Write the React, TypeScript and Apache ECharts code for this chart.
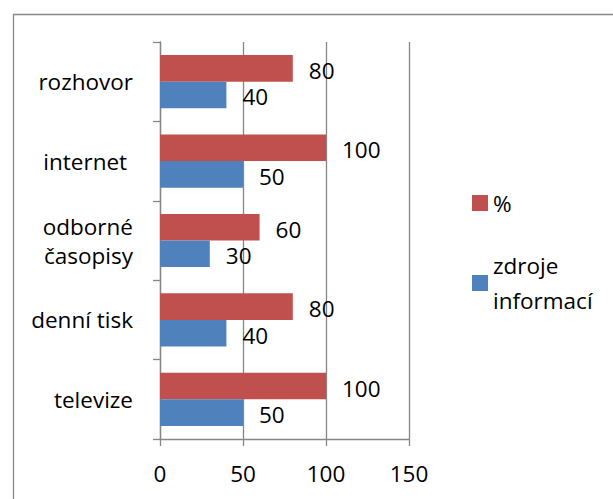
import React, { useEffect, useRef } from "react";
import * as echarts from "echarts";

const categories = ["televize", "denní tisk", "odborné\nčasopisy", "internet ", "rozhovor"];
const percentValues = [100, 80, 60, 100, 80];
const zdrojeValues = [50, 40, 30, 50, 40];
const seriesNames = ["%", "zdroje informací"];
const legendLabels: Record<string, string> = { "zdroje informací": "zdroje\ninformací", "%": "%" };

const FONT = "Open Sans";
const GRAY = "#868686";

export default function App() {
  const ref = useRef<HTMLDivElement>(null);
  useEffect(() => {
    if (!ref.current) return;
    const chart = echarts.init(ref.current, undefined, { renderer: "svg" });
    const labelStyle = {
      show: true,
      position: "right" as const,
      distance: 16,
      offset: [0, 2],
      color: "#000",
      fontFamily: FONT,
      fontSize: 22.5,
    };
    chart.setOption({
      animation: false,
      backgroundColor: "#fff",
      textStyle: { fontFamily: FONT },
      graphic: [
        {
          type: "rect",
          shape: { x: 13.5, y: 14.5, width: 800, height: 800 },
          style: { fill: "none", stroke: "#878787", lineWidth: 1.3 },
          silent: true,
        },
      ],
      legend: [
        {
          data: [seriesNames[0]],
          orient: "vertical",
          left: 472,
          top: 188,
          padding: 0,
          itemWidth: 16,
          itemHeight: 16,
          icon: "rect",
          formatter: (n: string) => legendLabels[n],
          textStyle: { fontFamily: FONT, fontSize: 22.5, color: "#000", lineHeight: 30 },
        },
        {
          data: [seriesNames[1]],
          orient: "vertical",
          left: 472,
          top: 230.5,
          padding: 0,
          itemWidth: 16,
          itemHeight: 16,
          icon: "rect",
          formatter: (n: string) => legendLabels[n],
          textStyle: {
            fontFamily: FONT,
            fontSize: 22.5,
            color: "#000",
            lineHeight: 35,
            padding: [35, 0, 0, 0],
          },
        },
      ],
      grid: { left: 160, top: 42, width: 249, height: 397, containLabel: false },
      xAxis: {
        type: "value",
        min: 0,
        max: 150,
        interval: 50,
        axisLine: { show: true, lineStyle: { color: GRAY, width: 1.3 } },
        axisTick: { show: true, length: 7, lineStyle: { color: GRAY, width: 1.3 } },
        splitLine: { show: true, lineStyle: { color: GRAY, width: 1.3 } },
        axisLabel: {
          color: "#000",
          fontFamily: FONT,
          fontSize: 22.5,
          lineHeight: 24,
          margin: 22,
        },
      },
      yAxis: {
        type: "category",
        data: categories,
        axisLine: { show: true, lineStyle: { color: GRAY, width: 1.3 } },
        axisTick: { show: true, length: 7, lineStyle: { color: GRAY, width: 1.3 } },
        axisLabel: {
          color: "#000",
          fontFamily: FONT,
          fontSize: 22.5,
          lineHeight: 29,
          margin: 27,
          align: "right",
        },
      },
      series: [
        {
          name: seriesNames[0],
          type: "bar",
          data: percentValues,
          itemStyle: { color: "#C0504D" },
          barGap: "0%",
          barCategoryGap: "33%",
          label: labelStyle,
        },
        {
          name: seriesNames[1],
          type: "bar",
          data: zdrojeValues,
          itemStyle: { color: "#4F81BD" },
          barGap: "0%",
          barCategoryGap: "33%",
          label: labelStyle,
        },
      ],
    });
    return () => chart.dispose();
  }, []);
  return (
    <div
      ref={ref}
      style={{ position: "absolute", left: 0, top: 0, width: 613, height: 499, background: "#fff" }}
    />
  );
}
